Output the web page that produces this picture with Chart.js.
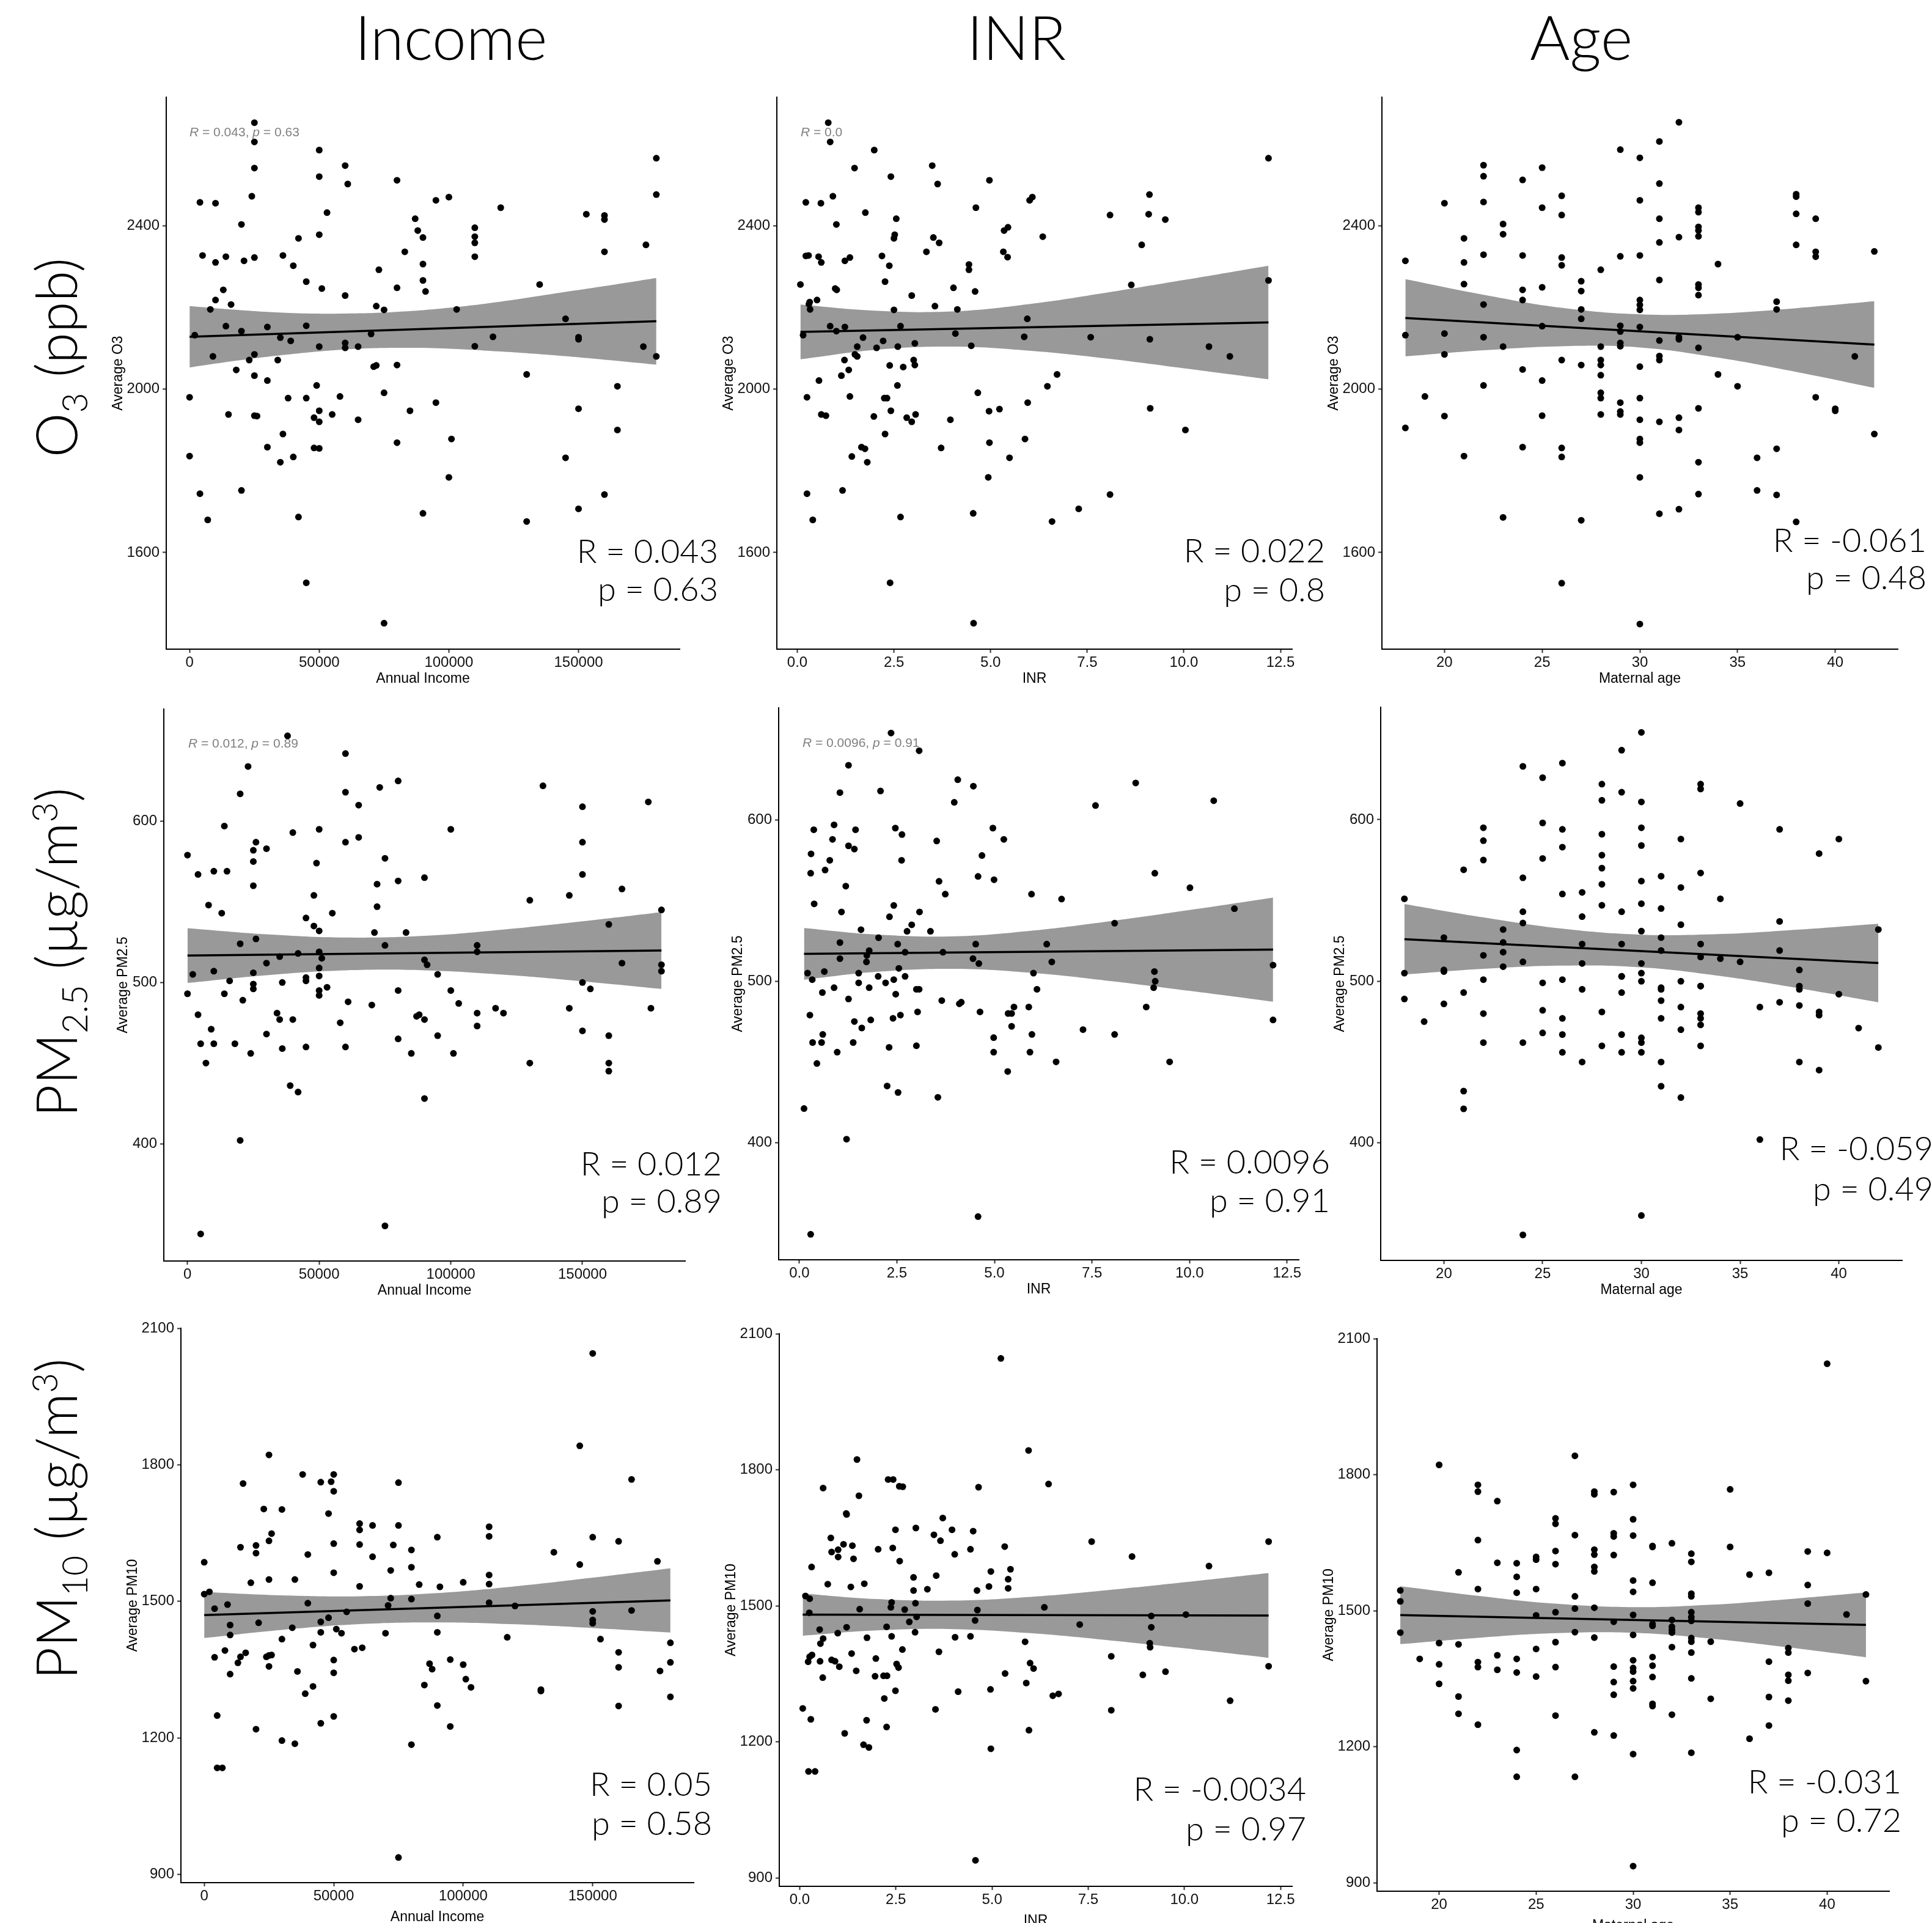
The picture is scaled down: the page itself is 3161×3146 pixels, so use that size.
<!DOCTYPE html>
<html lang="en">
<head>
<meta charset="UTF-8">
<title>Pollutant exposure vs income, INR and maternal age</title>
<script src="https://cdn.jsdelivr.net/npm/chart.js"></script>
<style>
  html, body { margin: 0; padding: 0; background: #fff; overflow: hidden; }
  body { width: 3161px; height: 3146px; position: relative; }
  canvas { position: absolute; }
  .head { position: absolute; top: -1px; font-family: Lato, 'Noto Sans', sans-serif; font-weight: 300;
          font-size: 100px; line-height: 1.2; transform: translateX(-50%); white-space: nowrap; color: #000; }
  .rowlab { position: absolute; font-family: Lato, 'Noto Sans', sans-serif; font-weight: 300; font-size: 92px;
            line-height: 1.2; white-space: nowrap; color: #000; transform: translate(-50%, -50%) rotate(-90deg); }
  .rowlab span { line-height: 0; font-size: 0.62em; }
  .stat { position: absolute; width: 700px; text-align: right; font-family: Lato, 'Noto Sans', sans-serif;
          font-weight: 300; font-size: 54px; line-height: 1.2; white-space: nowrap; color: #000; }
  .ghost { position: absolute; font-family: 'Liberation Sans', Arial, sans-serif; font-size: 21px;
           line-height: 1.2; color: #808080; white-space: nowrap; }
</style>
</head>
<body>
<script>
// ---- data ----
const colHeads = ['Income', 'INR', 'Age'];

const incomeTicks = [0, 50000, 100000, 150000];
const inrTicks = [0, 2.5, 5, 7.5, 10, 12.5];
const ageTicks = [20, 25, 30, 35, 40];
const o3Ticks = [1600, 2000, 2400];
const pm25Ticks = [400, 500, 600];
const pm10Ticks = [900, 1200, 1500, 1800, 2100];

const rLabels = ['R = 0.043', 'R = 0.022', 'R = -0.061', 'R = 0.012', 'R = 0.0096', 'R = -0.059', 'R = 0.05', 'R = -0.0034', 'R = -0.031'];
const pLabels = ['p = 0.63', 'p = 0.8', 'p = 0.48', 'p = 0.89', 'p = 0.91', 'p = 0.49', 'p = 0.58', 'p = 0.97', 'p = 0.72'];

// O3 vs annual income
const incomeO3 = [[25000,2652],[25000,2605],[50000,2585],[25000,2541],[50000,2520],[60000,2547],[61000,2502],[80000,2511],[180000,2565],[180000,2476],
  [4000,2457],[10000,2455],[24000,2472],[95000,2462],[100000,2470],[120000,2444],[53000,2432],[87000,2417],[153000,2428],[160000,2425],
  [160000,2415],[20000,2403],[50000,2378],[42000,2369],[88000,2388],[90000,2371],[110000,2395],[110000,2373],[110000,2358],[110000,2324],
  [176000,2353],[160000,2336],[83000,2336],[5000,2327],[14000,2324],[25000,2322],[10000,2310],[21000,2314],[36000,2327],[40000,2302],
  [90000,2306],[73000,2292],[45000,2263],[90000,2266],[51000,2246],[80000,2248],[91000,2239],[135000,2256],[13000,2243],[60000,2229],
  [10000,2218],[16000,2207],[8000,2195],[72000,2203],[75000,2194],[103000,2195],[145000,2172],[14000,2154],[2000,2132],[20000,2142],
  [30000,2152],[45000,2155],[35000,2126],[39000,2118],[70000,2135],[60000,2113],[60000,2101],[50000,2104],[65000,2104],[117000,2128],
  [150000,2127],[150000,2122],[110000,2105],[175000,2104],[180000,2080],[9000,2080],[25000,2085],[23000,2071],[34000,2071],[18000,2047],
  [71000,2055],[72000,2058],[80000,2059],[25000,2033],[30000,2021],[130000,2036],[49000,2009],[165000,2007],[0,1980],[75000,1991],
  [58000,1982],[38000,1978],[45000,1978],[95000,1967],[50000,1947],[150000,1952],[85000,1947],[15000,1938],[25000,1935],[26000,1934],
  [55000,1938],[48000,1930],[50000,1920],[65000,1925],[165000,1900],[36000,1890],[101000,1878],[80000,1869],[30000,1858],[48000,1856],
  [50000,1855],[0,1836],[40000,1834],[145000,1832],[35000,1821],[100000,1784],[20000,1752],[4000,1744],[160000,1742],[150000,1707],
  [90000,1696],[42000,1687],[7000,1680],[130000,1676],[45000,1526],[75000,1427]];
const incomeO3Fit = [[0,2128],[180000,2166]];
const incomeO3Band = [[0,2053,2203],[20000,2071,2193],[40000,2086,2186],[60000,2097,2185],[80000,2101,2189],
  [100000,2099,2199],[120000,2092,2214],[140000,2083,2233],[160000,2072,2252],[180000,2060,2272]];

// O3 vs INR
const inrO3 = [[0.80,2652],[0.85,2605],[1.99,2585],[1.48,2541],[2.42,2520],[3.49,2547],[3.63,2502],[4.97,2511],[12.19,2565],[9.11,2476],
  [0.22,2457],[0.61,2455],[0.92,2472],[6.01,2462],[6.08,2470],[4.62,2444],[1.76,2432],[2.56,2417],[8.09,2426],[9.09,2428],
  [9.52,2415],[1.01,2403],[2.52,2378],[2.50,2369],[5.35,2388],[5.45,2396],[3.52,2371],[3.67,2358],[6.35,2373],[3.34,2336],
  [8.91,2353],[0.22,2326],[0.29,2327],[0.55,2324],[1.36,2322],[2.19,2326],[5.33,2336],[1.23,2314],[0.62,2310],[5.44,2323],
  [2.38,2302],[4.44,2305],[4.44,2292],[2.27,2263],[0.08,2256],[0.98,2246],[1.02,2243],[4.04,2248],[4.60,2239],[8.64,2255],
  [12.19,2266],[2.96,2229],[0.51,2218],[0.32,2213],[0.30,2208],[0.33,2195],[2.50,2194],[3.56,2203],[4.14,2195],[5.95,2172],
  [0.85,2154],[1.23,2152],[2.67,2154],[1.01,2142],[0.15,2132],[4.09,2136],[1.70,2126],[2.22,2118],[5.87,2128],[7.59,2127],
  [9.12,2122],[1.55,2104],[2.05,2101],[2.60,2104],[3.04,2112],[4.50,2106],[10.65,2104],[11.19,2080],[1.49,2085],[1.55,2080],
  [1.22,2071],[3.01,2071],[3.04,2059],[2.39,2058],[2.74,2054],[1.33,2047],[1.14,2033],[0.56,2021],[2.59,2009],[6.72,2036],
  [6.47,2007],[4.67,1991],[0.25,1980],[1.36,1982],[2.25,1978],[2.32,1978],[5.96,1967],[9.13,1953],[2.42,1947],[4.96,1946],
  [5.23,1951],[0.62,1938],[0.74,1935],[1.98,1933],[2.83,1930],[2.96,1920],[3.06,1938],[3.96,1925],[10.04,1900],[2.27,1890],
  [5.89,1878],[4.97,1869],[1.66,1858],[1.75,1854],[3.72,1856],[1.41,1835],[5.49,1832],[1.81,1821],[4.94,1784],[1.17,1752],
  [0.25,1744],[8.09,1742],[7.28,1707],[0.40,1680],[2.67,1687],[4.55,1696],[6.59,1676],[2.40,1526],[4.56,1427]];
const inrO3Fit = [[0.08,2140],[12.19,2163]];
const inrO3Band = [[0.08,2073,2207],[2,2096,2192],[4,2104,2190],[6,2094,2208],[8,2075,2236],[10,2051,2267],[12.19,2024,2302]];

// O3 vs maternal age
const ageO3 = [[18,2314],[18,2132],[18,1905],[19,1982],[20,2455],[20,2136],[20,2085],[20,1934],
  [21,2369],[21,2310],[21,2257],[21,1836],[22,2548],[22,2521],[22,2458],[22,2329],[22,2207],[22,2127],[22,2009],
  [23,2404],[23,2379],[23,2104],[23,1686],[24,2512],[24,2327],[24,2243],[24,2218],[24,2048],[24,1858],
  [25,2542],[25,2444],[25,2249],[25,2154],[25,2021],[25,1935],
  [26,2473],[26,2426],[26,2322],[26,2303],[26,2071],[26,1856],[26,1834],[26,1525],
  [27,2264],[27,2240],[27,2195],[27,2172],[27,2059],[27,1679],
  [28,2292],[28,2104],[28,2071],[28,2059],[28,2034],[28,1991],[28,1978],[28,1938],
  [29,2586],[29,2325],[29,2155],[29,2141],[29,2113],[29,2105],[29,1967],[29,1945],[29,1938],
  [30,2566],[30,2462],[30,2327],[30,2218],[30,2206],[30,2194],[30,2152],[30,2055],[30,1978],[30,1925],[30,1878],[30,1869],[30,1784],[30,1425],
  [31,2606],[31,2503],[31,2417],[31,2359],[31,2267],[31,2119],[31,2081],[31,2071],[31,1920],[31,1695],
  [32,2653],[32,2372],[32,2127],[32,2122],[32,1930],[32,1900],[32,1706],
  [33,2444],[33,2433],[33,2397],[33,2388],[33,2374],[33,2256],[33,2248],[33,2230],[33,2101],[33,1953],[33,1821],[33,1743],
  [34,2306],[34,2036],[35,2127],[35,2007],[36,1832],[36,1752],[37,2214],[37,2195],[37,1854],[37,1741],
  [38,2477],[38,2471],[38,2429],[38,2353],[38,1675],[39,2417],[39,2336],[39,2324],[39,1980],
  [40,1952],[40,1947],[41,2080],[42,2337],[42,1890]];
const ageO3Fit = [[18,2174],[42,2109]];
const ageO3Band = [[18,2080,2269],[22,2095,2231],[26,2105,2199],[30,2102,2183],[34,2077,2185],[38,2042,2198],[42,2003,2215]];

// PM2.5 vs annual income
const incomePm25 = [[38000,653],[60000,642],[23000,634],[20000,617],[60000,618],[65000,610],[73000,621],[80000,625],[135000,622],[175000,612],
  [150000,609],[14000,597],[40000,593],[50000,595],[100000,595],[26000,587],[25000,582],[30000,583],[60000,587],[65000,590],
  [150000,587],[0,579],[25000,575],[49000,574],[75000,577],[4000,567],[10000,569],[15000,569],[90000,565],[150000,567],
  [25000,560],[72000,561],[80000,563],[48000,554],[145000,554],[130000,551],[165000,558],[8000,548],[13000,543],[72000,547],
  [55000,543],[45000,540],[180000,545],[48000,535],[50000,532],[71000,531],[83000,531],[160000,536],[26000,527],[20000,524],
  [75000,523],[110000,523],[110000,519],[42000,518],[50000,519],[35000,516],[51000,515],[90000,514],[91000,511],[165000,512],
  [180000,511],[180000,507],[30000,512],[2000,505],[10000,507],[25000,506],[50000,509],[95000,505],[45000,503],[50000,504],
  [16000,501],[45000,501],[25000,499],[36000,500],[150000,500],[0,493],[14000,493],[25000,496],[50000,495],[53000,497],
  [80000,495],[100000,495],[153000,496],[50000,492],[21000,489],[61000,488],[103000,487],[70000,486],[145000,484],[176000,484],
  [117000,484],[120000,481],[34000,481],[110000,481],[4000,480],[88000,480],[87000,479],[35000,477],[40000,477],[90000,477],
  [58000,475],[110000,473],[9000,471],[150000,470],[30000,468],[95000,467],[160000,467],[80000,465],[5000,462],[10000,462],
  [18000,462],[36000,459],[45000,460],[60000,460],[24000,456],[85000,456],[101000,456],[130000,450],[160000,450],[7000,450],
  [160000,445],[39000,436],[42000,432],[90000,428],[20000,402],[75000,349],[5000,344]];
const incomePm25Fit = [[0,516.7],[180000,519.8]];
const incomePm25Band = [[0,499.7,533.7],[30000,504.5,529.9],[60000,507.5,527.9],[90000,507.5,528.9],[120000,504.8,532.8],[150000,500.7,537.9],[180000,496.0,543.6]];

// PM2.5 vs INR
const inrPm25 = [[2.35,654],[3.07,643],[1.26,634],[1.04,617],[2.08,618],[4.06,625],[4.46,621],[3.97,611],[8.62,623],[7.59,609],
  [10.62,612],[0.89,597],[0.37,594],[1.44,594],[2.46,595],[2.63,591],[4.96,595],[0.85,588],[3.52,587],[5.24,588],
  [1.26,584],[1.41,582],[0.30,579],[0.78,575],[2.62,575],[4.68,578],[0.29,567],[0.66,569],[4.58,565],[4.99,563],
  [9.11,567],[1.19,559],[3.58,562],[3.74,554],[5.95,554],[6.72,551],[10.01,558],[0.38,548],[2.42,547],[1.08,543],
  [2.31,540],[3.08,543],[11.15,545],[2.88,535],[1.58,532],[2.76,531],[3.36,531],[8.08,536],[2.03,527],[1.04,524],
  [2.52,523],[4.52,523],[6.34,523],[1.79,519],[2.71,518],[3.68,518],[1.73,516],[1.72,512],[1.04,514],[2.55,508],
  [4.45,514],[4.60,511],[6.47,512],[12.14,510],[0.21,505],[0.64,506],[1.52,505],[6.00,505],[9.10,506],[0.33,501],
  [2.02,503],[2.21,499],[2.42,501],[2.71,503],[1.52,499],[9.12,500],[0.59,493],[0.89,496],[1.79,496],[3.00,495],
  [3.07,495],[2.47,492],[6.09,495],[9.08,496],[1.26,489],[3.65,488],[4.10,486],[4.15,487],[5.50,484],[5.88,484],
  [8.89,484],[0.27,479],[3.03,481],[4.63,481],[5.35,480],[5.44,480],[2.59,479],[2.40,477],[1.83,476],[12.14,476],
  [1.41,475],[5.44,472],[1.60,471],[0.60,467],[7.27,470],[5.96,467],[8.08,467],[4.98,465],[0.34,462],[0.57,462],
  [1.38,462],[2.30,459],[3.00,460],[0.97,456],[4.98,456],[5.91,456],[0.45,449],[6.58,450],[9.49,450],[5.34,444],
  [2.25,435],[2.53,431],[3.55,428],[0.12,421],[1.21,402],[4.58,354],[0.29,343]];
const inrPm25Fit = [[0.12,517.0],[12.14,519.6]];
const inrPm25Band = [[0.12,501.0,533.0],[2,505.9,528.9],[4,507.7,527.9],[6,505.1,531.5],[8,500.0,537.4],[10,494.0,544.2],[12.14,487.3,551.9]];

// PM2.5 vs maternal age
const agePm25 = [[18,551],[18,505],[18,489],[19,475],[20,527],[20,507],[20,506],[20,486],
  [21,569],[21,493],[21,432],[21,421],[22,595],[22,587],[22,575],[22,516],[22,501],[22,480],[22,462],
  [23,532],[23,524],[23,518],[23,509],[24,633],[24,564],[24,543],[24,536],[24,512],[24,462],[24,343],
  [25,626],[25,598],[25,576],[25,499],[25,482],[25,468],
  [26,635],[26,594],[26,583],[26,554],[26,501],[26,477],[26,467],[26,456],
  [27,555],[27,540],[27,523],[27,511],[27,495],[27,450],
  [28,622],[28,612],[28,591],[28,578],[28,570],[28,560],[28,547],[28,481],[28,460],
  [29,643],[29,617],[29,543],[29,523],[29,503],[29,503],[29,493],[29,467],[29,456],
  [30,654],[30,611],[30,595],[30,584],[30,562],[30,548],[30,531],[30,511],[30,505],[30,500],[30,465],[30,462],[30,456],[30,355],
  [31,565],[31,545],[31,527],[31,519],[31,496],[31,495],[31,488],[31,477],[31,450],[31,435],
  [32,588],[32,558],[32,535],[32,500],[32,484],[32,470],[32,428],
  [33,622],[33,619],[33,567],[33,523],[33,515],[33,497],[33,497],[33,480],[33,477],[33,473],[33,460],
  [34,551],[34,514],[35,610],[35,512],[36,484],[36,402],[37,594],[37,537],[37,519],[37,487],
  [38,507],[38,497],[38,495],[38,485],[38,450],[39,579],[39,481],[39,479],[39,445],
  [40,588],[40,492],[41,471],[42,532],[42,459]];
const agePm25Fit = [[18,526.0],[42,511.3]];
const agePm25Band = [[18,504.2,547.8],[22,507.7,539.5],[26,509.7,532.5],[30,508.6,528.8],[34,503.2,529.2],[38,495.6,532.0],[42,487.0,535.6]];

// PM10 vs annual income
const incomePm10 = [[150000,2045],[145000,1842],[25000,1822],[165000,1768],[38000,1779],[50000,1779],[15000,1759],[45000,1762],[49000,1763],[75000,1761],
  [50000,1742],[23000,1703],[30000,1702],[48000,1693],[60000,1671],[60000,1657],[65000,1667],[75000,1667],[110000,1664],[26000,1649],
  [25000,1633],[90000,1641],[110000,1643],[150000,1641],[160000,1632],[50000,1627],[20000,1623],[14000,1619],[60000,1625],[73000,1624],
  [80000,1613],[135000,1608],[20000,1606],[40000,1603],[65000,1598],[0,1586],[175000,1588],[145000,1581],[80000,1575],[72000,1568],
  [50000,1563],[110000,1558],[18000,1541],[25000,1548],[35000,1548],[83000,1537],[100000,1542],[110000,1538],[60000,1533],[91000,1532],
  [0,1516],[2000,1521],[40000,1496],[72000,1507],[80000,1505],[110000,1497],[9000,1493],[71000,1491],[120000,1490],[4000,1484],
  [55000,1477],[150000,1478],[165000,1480],[90000,1468],[48000,1464],[150000,1459],[150000,1452],[21000,1453],[45000,1455],[10000,1448],
  [51000,1439],[34000,1442],[10000,1426],[45000,1432],[53000,1430],[70000,1430],[90000,1432],[117000,1421],[153000,1417],[30000,1417],
  [180000,1409],[42000,1404],[58000,1395],[61000,1398],[160000,1388],[8000,1392],[16000,1387],[4000,1377],[14000,1378],[24000,1378],
  [25000,1381],[26000,1382],[13000,1365],[50000,1371],[95000,1372],[180000,1366],[25000,1357],[87000,1363],[88000,1351],[100000,1361],
  [160000,1355],[176000,1347],[36000,1346],[10000,1340],[50000,1343],[101000,1329],[42000,1313],[85000,1316],[103000,1311],[130000,1306],
  [130000,1303],[39000,1297],[180000,1290],[90000,1271],[160000,1270],[5000,1249],[50000,1247],[45000,1232],[95000,1225],[20000,1219],
  [30000,1194],[35000,1187],[80000,1185],[5000,1134],[7000,1134],[75000,937]];
const incomePm10Fit = [[0,1470],[180000,1502]];
const incomePm10Band = [[0,1419.5,1520.5],[30000,1437.4,1513.2],[60000,1450.1,1511.3],[90000,1453.8,1518.2],[120000,1449.6,1533.0],[150000,1441.4,1552.0],[180000,1431.5,1572.5]];

// PM10 vs INR
const inrPm10 = [[5.23,2046],[5.95,1843],[1.49,1823],[2.30,1779],[2.43,1779],[2.59,1764],[2.68,1763],[0.61,1760],[4.65,1762],[6.47,1769],
  [1.54,1743],[1.21,1704],[1.22,1702],[3.72,1694],[3.02,1672],[3.96,1668],[4.51,1665],[2.49,1668],[3.49,1657],[0.81,1650],
  [3.66,1644],[7.59,1642],[1.14,1636],[1.37,1633],[2.42,1628],[5.33,1631],[2.04,1625],[4.44,1625],[12.19,1642],[0.83,1619],
  [1.00,1624],[1.00,1608],[4.03,1614],[1.40,1604],[8.64,1609],[2.60,1599],[0.31,1586],[10.64,1588],[5.48,1581],[4.97,1576],
  [2.96,1563],[3.55,1567],[5.42,1559],[0.73,1548],[1.68,1549],[3.32,1537],[4.92,1543],[5.42,1539],[1.33,1542],[2.96,1534],
  [4.61,1534],[0.15,1522],[0.26,1516],[2.39,1508],[3.01,1506],[6.36,1497],[2.37,1497],[1.56,1493],[2.73,1492],[4.62,1491],
  [0.25,1485],[9.14,1478],[10.04,1481],[3.04,1476],[4.56,1468],[2.85,1465],[7.28,1459],[1.22,1453],[2.26,1454],[9.14,1453],
  [0.52,1448],[0.99,1440],[3.00,1442],[2.39,1433],[4.04,1431],[4.44,1433],[0.61,1428],[1.75,1430],[5.86,1421],[0.54,1417],
  [9.10,1418],[9.11,1409],[2.67,1404],[3.62,1399],[1.35,1395],[8.10,1389],[0.32,1392],[0.26,1388],[1.98,1384],[0.83,1381],
  [0.92,1378],[0.22,1377],[0.53,1378],[2.52,1372],[5.99,1374],[1.03,1366],[2.57,1364],[6.08,1362],[1.47,1357],[12.19,1367],
  [5.34,1351],[9.51,1355],[0.60,1342],[1.96,1345],[2.18,1346],[2.27,1346],[8.92,1348],[5.89,1330],[2.49,1313],[4.96,1316],
  [4.12,1311],[2.20,1296],[6.58,1302],[6.73,1306],[11.19,1291],[0.08,1274],[3.53,1272],[8.10,1270],[0.29,1250],[1.74,1248],
  [2.26,1233],[5.96,1226],[1.17,1219],[1.66,1194],[1.80,1188],[4.97,1185],[0.23,1135],[0.40,1135],[4.57,939]];
const inrPm10Fit = [[0.08,1481],[12.19,1479]];
const inrPm10Band = [[0.08,1434.5,1527.5],[2,1446.2,1515.2],[4,1449.0,1511.8],[6,1440.0,1520.0],[8,1424.6,1534.8],[10,1406.6,1552.2],[12.19,1385.6,1572.4]];

// PM10 vs maternal age
const agePm10 = [[18,1545],[18,1521],[18,1452],[19,1394],[20,1822],[20,1429],[20,1382],[20,1339],
  [21,1585],[21,1426],[21,1311],[21,1273],[22,1778],[22,1763],[22,1656],[22,1548],[22,1387],[22,1376],[22,1249],
  [23,1742],[23,1606],[23,1402],[23,1370],[24,1605],[24,1575],[24,1540],[24,1394],[24,1364],[24,1193],[24,1134],
  [25,1619],[25,1613],[25,1548],[25,1490],[25,1416],[25,1355],
  [26,1704],[26,1692],[26,1632],[26,1603],[26,1497],[26,1431],[26,1376],[26,1269],
  [27,1842],[27,1667],[27,1532],[27,1505],[27,1453],[27,1134],
  [28,1763],[28,1757],[28,1635],[28,1624],[28,1597],[28,1587],[28,1507],[28,1441],[28,1232],
  [29,1762],[29,1671],[29,1664],[29,1623],[29,1476],[29,1377],[29,1343],[29,1315],[29,1225],
  [30,1778],[30,1702],[30,1666],[30,1567],[30,1542],[30,1491],[30,1447],[30,1391],[30,1374],[30,1366],[30,1345],[30,1329],[30,1184],[30,937],
  [31,1643],[31,1641],[31,1562],[31,1471],[31,1467],[31,1398],[31,1379],[31,1354],[31,1295],[31,1290],
  [32,1649],[32,1480],[32,1465],[32,1458],[32,1452],[32,1420],[32,1271],
  [33,1626],[33,1608],[33,1538],[33,1532],[33,1497],[33,1486],[33,1478],[33,1440],[33,1432],[33,1408],[33,1351],[33,1187],
  [34,1432],[34,1306],[35,1768],[35,1641],[36,1580],[36,1218],[37,1584],[37,1388],[37,1310],[37,1247],
  [38,1418],[38,1408],[38,1359],[38,1346],[38,1302],[39,1631],[39,1557],[39,1516],[39,1363],
  [40,2045],[40,1628],[41,1492],[42,1536],[42,1345]];
const agePm10Fit = [[18,1490.5],[42,1469.0]];
const agePm10Band = [[18,1426.5,1554.5],[22,1440.5,1533.3],[26,1450.8,1515.8],[30,1451.5,1508.1],[34,1438.9,1513.5],[38,1419.4,1525.8],[42,1397.5,1540.5]];

// ---- axes ----
const xAxes = {
  income: { min: -9000, max: 189000, ticks: incomeTicks, title: 'Annual Income', fmt: v => String(v) },
  inr:    { min: -0.53, max: 12.8,   ticks: inrTicks,    title: 'INR',           fmt: v => v.toFixed(1) },
  age:    { min: 16.8,  max: 43.2,   ticks: ageTicks,    title: 'Maternal age',  fmt: v => String(v) }
};
const yAxes = {
  o3:   { min: 1363.6, max: 2714.4, ticks: o3Ticks,   title: 'Average O3',    titlePad: 18 },
  pm25: { min: 327.2,  max: 669.6,  ticks: pm25Ticks, title: 'Average PM2.5', titlePad: 30 },
  pm10: { min: 881.6,  max: 2100.4, ticks: pm10Ticks, title: 'Average PM10',  titlePad: 18 }
};

// plot boxes [left, top, right, bottom] in page pixels
const panels = [
  { box: [272, 159, 1112, 1062],  x: 'income', y: 'o3',   pts: incomeO3,   fit: incomeO3Fit,   band: incomeO3Band,   row: 0 },
  { box: [1271, 159, 2114, 1062], x: 'inr',    y: 'o3',   pts: inrO3,      fit: inrO3Fit,      band: inrO3Band,      row: 0 },
  { box: [2261, 159, 3105, 1062], x: 'age',    y: 'o3',   pts: ageO3,      fit: ageO3Fit,      band: ageO3Band,      row: 0 },
  { box: [268, 1160, 1121, 2063], x: 'income', y: 'pm25', pts: incomePm25, fit: incomePm25Fit, band: incomePm25Band, row: 1 },
  { box: [1274, 1158, 2125, 2061], x: 'inr',   y: 'pm25', pts: inrPm25,    fit: inrPm25Fit,    band: inrPm25Band,    row: 1 },
  { box: [2259, 1157, 3112, 2062], x: 'age',   y: 'pm25', pts: agePm25,    fit: agePm25Fit,    band: agePm25Band,    row: 1 },
  { box: [296, 2173, 1135, 3080], x: 'income', y: 'pm10', pts: incomePm10, fit: incomePm10Fit, band: incomePm10Band, row: 2 },
  { box: [1275, 2182, 2114, 3086], x: 'inr',   y: 'pm10', pts: inrPm10,    fit: inrPm10Fit,    band: inrPm10Band,    row: 2 },
  { box: [2253, 2190, 3091, 3094], x: 'age',   y: 'pm10', pts: agePm10,    fit: agePm10Fit,    band: agePm10Band,    row: 2 }
];

const tickFont = { family: "'Liberation Sans', Arial, sans-serif", size: 24 };
const titleFont = { family: "'Liberation Sans', Arial, sans-serif", size: 23 };

function makePanel(p) {
  const [L, T, R, B] = p.box;
  const padL = 110, padT = 24, padR = 36, padB = p.row === 2 ? 84 : 80;
  const w = R - L + padL + padR, h = B - T + padT + padB;
  const cv = document.createElement('canvas');
  cv.width = w; cv.height = h;
  cv.style.left = (L - padL) + 'px';
  cv.style.top = (T - padT) + 'px';
  cv.style.width = w + 'px';
  cv.style.height = h + 'px';
  document.body.appendChild(cv);

  const xa = xAxes[p.x], ya = yAxes[p.y];
  const xy = a => ({ x: a[0], y: a[1] });

  new Chart(cv, {
    type: 'line',
    data: {
      datasets: [
        { data: p.band.map(b => ({ x: b[0], y: b[2] })), fill: '+1', backgroundColor: '#999999',
          borderColor: 'rgba(0,0,0,0)', borderWidth: 0, pointRadius: 0, tension: 0.4, order: 3 },
        { data: p.band.map(b => ({ x: b[0], y: b[1] })), fill: false,
          borderColor: 'rgba(0,0,0,0)', borderWidth: 0, pointRadius: 0, tension: 0.4, order: 3 },
        { data: p.pts.map(xy), showLine: false, pointRadius: 5.5, pointBackgroundColor: '#000',
          pointBorderWidth: 0, pointBorderColor: '#000', order: 2 },
        { data: p.fit.map(xy), borderColor: '#000', borderWidth: 3.5, pointRadius: 0, fill: false, order: 1 }
      ]
    },
    options: {
      responsive: false,
      animation: false,
      layout: { padding: { top: padT, right: padR, left: 0, bottom: 0 } },
      plugins: { legend: { display: false }, tooltip: { enabled: false } },
      scales: {
        x: {
          type: 'linear', min: xa.min, max: xa.max,
          afterBuildTicks: s => { s.ticks = xa.ticks.map(v => ({ value: v })); },
          afterFit: s => { s.height = padB; },
          ticks: { autoSkip: false, maxRotation: 0, padding: 2, font: tickFont, color: '#111',
                   callback: v => xa.fmt(v) },
          grid: { drawOnChartArea: false, drawTicks: true, tickLength: 6, tickWidth: 2, tickColor: '#333' },
          border: { display: true, color: '#000', width: 2 },
          title: { display: true, text: xa.title, font: titleFont, color: '#000',
                   padding: { top: 0, bottom: p.row === 2 ? 14 : 18 } }
        },
        y: {
          type: 'linear', min: ya.min, max: ya.max,
          afterBuildTicks: s => { s.ticks = ya.ticks.map(v => ({ value: v })); },
          afterFit: s => { s.width = padL; },
          ticks: { autoSkip: false, padding: 5, font: tickFont, color: '#111', callback: v => String(v) },
          grid: { drawOnChartArea: false, drawTicks: true, tickLength: 6, tickWidth: 2, tickColor: '#333' },
          border: { display: true, color: '#000', width: 2 },
          title: { display: true, text: ya.title, font: titleFont, color: '#000',
                   padding: { top: ya.titlePad, bottom: 0 } }
        }
      }
    }
  });
}

panels.forEach(makePanel);

// ---- text overlays ----
function addDiv(cls, html, style) {
  const d = document.createElement('div');
  d.className = cls;
  d.innerHTML = html;
  Object.assign(d.style, style);
  document.body.appendChild(d);
  return d;
}

const headX = [738, 1663, 2587];
colHeads.forEach((t, i) => addDiv('head', t, { left: headX[i] + 'px' }));

addDiv('rowlab', 'O<span style="vertical-align:-0.3em">3</span> (ppb)', { left: '91px', top: '585px' });
addDiv('rowlab', 'PM<span style="vertical-align:-0.3em">2.5</span> (\u00b5g/m<span style="vertical-align:0.55em">3</span>)', { left: '91px', top: '1558px' });
addDiv('rowlab', 'PM<span style="vertical-align:-0.3em">10</span> (\u00b5g/m<span style="vertical-align:0.55em">3</span>)', { left: '91px', top: '2485px' });

// right edge, baseline of R line, baseline of p line
const statPos = [[1175, 922, 984], [2168, 921, 985], [3152, 904, 965],
                 [1181, 1924, 1985], [2176, 1921, 1984], [3163, 1899, 1965],
                 [1165, 2939, 3003], [2137, 2947, 3012], [3111, 2935, 2998]];
statPos.forEach((s, i) => {
  addDiv('stat', rLabels[i], { left: (s[0] - 700) + 'px', top: (s[1] - 53) + 'px' });
  addDiv('stat', pLabels[i], { left: (s[0] - 700) + 'px', top: (s[2] - 53) + 'px' });
});

// faint leftover correlation labels in the top-left corners
const ghostText = ['<i>R</i> = 0.043, <i>p</i> = 0.63', '<i>R</i> = 0.0', '<i>R</i> = 0.012, <i>p</i> = 0.89', '<i>R</i> = 0.0096, <i>p</i> = 0.91'];
const ghostPos = [[310, 216], [1310, 216], [308, 1216], [1313, 1215]];
ghostPos.forEach((g, i) => addDiv('ghost', ghostText[i], { left: g[0] + 'px', top: (g[1] - 13) + 'px' }));
</script>
</body>
</html>
